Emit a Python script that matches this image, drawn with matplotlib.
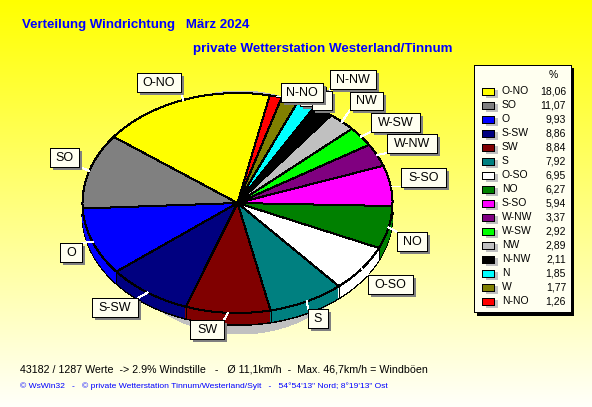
import numpy as np
import matplotlib
matplotlib.use("Agg")
import matplotlib.pyplot as plt
from matplotlib.patches import Rectangle

plt.rcParams['font.family'] = ['Liberation Sans', 'DejaVu Sans']

# Daten (Legende, absteigend sortiert)
richtung = ['O-NO', 'SO', 'O', 'S-SW', 'SW', 'S', 'O-SO', 'NO', 'S-SO',
            'W-NW', 'W-SW', 'NW', 'N-NW', 'N', 'W', 'N-NO']
prozent = [18.06, 11.07, 9.93, 8.86, 8.84, 7.92, 6.95, 6.27, 5.94,
           3.37, 2.92, 2.89, 2.11, 1.85, 1.77, 1.26]
prozent_text = ['18,06', '11,07', '9,93', '8,86', '8,84', '7,92', '6,95', '6,27',
                '5,94', '3,37', '2,92', '2,89', '2,11', '1,85', '1,77', '1,26']
farben = ['#ffff00', '#808080', '#0000ff', '#000080', '#800000', '#008080', '#ffffff',
          '#008000', '#ff00ff', '#800080', '#00ff00', '#c0c0c0', '#000000', '#00ffff',
          '#808000', '#ff0000']

# Beschriftungen: x0, y0, x1, y1 in Pixel (W und N liegen verdeckt unter N-NO)
boxen = {
    'W': (300, 87, 326, 106),
    'N': (312, 91, 332, 110),
    'N-NW': (330, 70, 376, 89),
    'NW': (350, 92, 383, 110),
    'W-SW': (371, 113, 420, 132),
    'W-NW': (387, 134, 437, 153),
    'S-SO': (401, 168, 446, 187),
    'NO': (397, 232, 427, 251),
    'O-SO': (368, 275, 413, 294),
    'S': (308, 309, 328, 328),
    'SW': (190, 320, 224, 339),
    'S-SW': (92, 298, 138, 317),
    'O': (60, 243, 82, 262),
    'SO': (50, 148, 79, 167),
    'O-NO': (137, 73, 181, 92),
    'N-NO': (281, 83, 323, 102),
}
verdeckt = ['W', 'N']

B, H = 592, 407
cx, cy, rx, ry = 237.5, 203, 155, 110
tiefe = 12
px1 = 0.72  # 1 Pixel Linienbreite

fig = plt.figure(figsize=(B / 100, H / 100), dpi=100)

# Hintergrund: Verlauf gelb nach hellgelb
bg = fig.add_axes([0, 0, 1, 1])
verlauf = np.ones((H, 1, 3))
verlauf[:, 0, 2] = np.linspace(0, 0.98, H)
bg.imshow(verlauf, aspect='auto', extent=(0, B, H, 0))
bg.axis('off')

# Schatten unter der Torte
t = np.linspace(0, 2 * np.pi, 200)
bg.fill(240 + 135 * np.cos(t), 212.5 + 121.5 * np.sin(t), color='#c0c0c0', lw=0, antialiased=False,
        zorder=1)
bg.set_xlim(0, B)
bg.set_ylim(H, 0)

# Torte
ax = fig.add_axes([0, 0, 1, 1], facecolor='none')
kante = dict(edgecolor='black', linewidth=px1, antialiased=False)
ohne = dict(edgecolor='none', antialiased=False)
ax.pie(prozent, colors=farben, startangle=78, center=(0, -tiefe / ry), wedgeprops=kante)
for d in range(tiefe - 1, 0, -1):
    ax.pie(prozent, colors=farben, startangle=78, center=(0, -d / ry), wedgeprops=ohne)
ax.pie(prozent, colors=farben, startangle=78, wedgeprops=kante)
ax.set_aspect('auto')
ax.set_xlim(-cx / rx, (B - cx) / rx)
ax.set_ylim((cy - H) / ry, cy / ry)

# Trennlinien an der Seitenwand
summe = sum(prozent)
grenzen = np.radians(78 + np.cumsum(prozent) / summe * 360)
for w in grenzen:
    if np.sin(w) < 0:
        ax.plot([np.cos(w)] * 2, [np.sin(w), np.sin(w) - tiefe / ry], color='black', lw=px1,
                antialiased=False)
ax.axis('off')

# Texte und Beschriftungen in Pixelkoordinaten
ov = fig.add_axes([0, 0, 1, 1], facecolor='none')
ov.set_xlim(0, B)
ov.set_ylim(H, 0)
ov.axis('off')

mitten = np.radians(78 + (np.cumsum(prozent) - np.array(prozent) / 2) / summe * 360)
for i, name in enumerate(richtung):
    x0, y0, x1, y1 = boxen[name]
    px = cx + rx * np.cos(mitten[i])
    py = cy - ry * np.sin(mitten[i])
    ov.plot([px, np.clip(px, x0, x1)], [py, np.clip(py, y0, y1)], color='white', lw=px1,
            antialiased=False, zorder=2)

for z, name in enumerate(boxen):
    x0, y0, x1, y1 = boxen[name]
    zz = 3 + z
    ov.add_patch(Rectangle((x0 + 3, y0 + 3), x1 - x0, y1 - y0, fc='#808080', ec='none',
                           antialiased=False, zorder=zz))
    ov.add_patch(Rectangle((x0, y0), x1 - x0, y1 - y0, fc='#fffff0', ec='black', lw=px1,
                           antialiased=False, zorder=zz))
    if name not in verdeckt:
        ov.text((x0 + x1) / 2, (y0 + y1) / 2 + 0.5, name, ha='center', va='center', fontsize=9,
                color='black', zorder=zz)

ov.text(22, 25, 'Verteilung Windrichtung   März 2024', color='#0000ff', fontsize=9.5,
        fontweight='bold', va='center')
ov.text(193, 49, 'private Wetterstation Westerland/Tinnum', color='#0000ff', fontsize=9.6,
        fontweight='bold', va='center')
ov.text(20, 369, '43182 / 1287 Werte  -> 2.9% Windstille   -   Ø 11,1km/h  -  Max. 46,7km/h = Windböen',
        color='black', fontsize=7.7, va='center')
ov.text(20, 386, '© WsWin32   -   © private Wetterstation Tinnum/Westerland/Sylt   -   '
        '54°54\'13" Nord; 8°19\'13" Ost', color='#0000ff', fontsize=6.1, va='center')

# Legende
ov.add_patch(Rectangle((477, 68), 97, 248, fc='black', ec='none', antialiased=False, zorder=30))
ov.add_patch(Rectangle((474, 65), 97, 247, fc='#fffff0', ec='black', lw=px1, antialiased=False,
                       zorder=31))
ov.text(553, 75, '%', ha='center', va='center', fontsize=7.5, zorder=32)
for i, name in enumerate(richtung):
    y = 91 + i * 14
    ov.add_patch(Rectangle((486, y - 1), 12, 8, fc='#c0c0c0', ec='none', antialiased=False, zorder=32))
    ov.add_patch(Rectangle((481.5, y - 3), 12, 6.5, fc=farben[i], ec='black', lw=px1, antialiased=False,
                           zorder=33))
    ov.text(502, y, name, va='center', fontsize=7.5, zorder=32)
    ov.text(566, y, prozent_text[i], ha='right', va='center', fontsize=7.5, zorder=32)

fig.savefig('out.png', dpi=100)
